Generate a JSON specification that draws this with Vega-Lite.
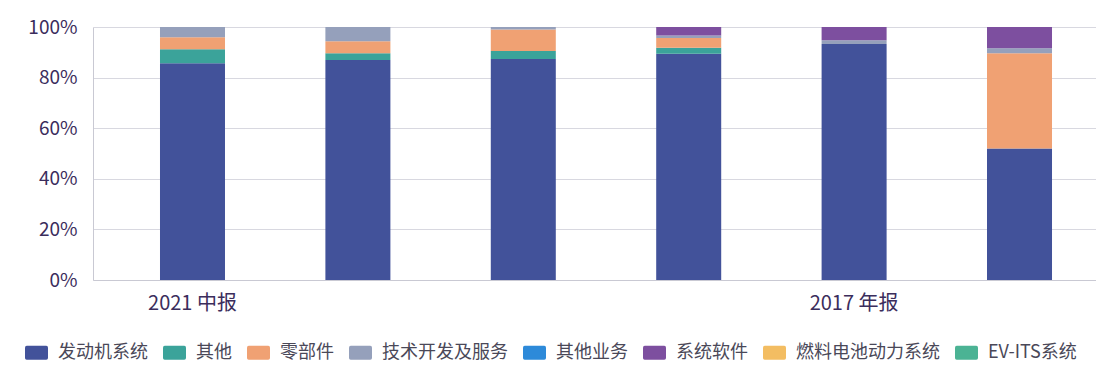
{
  "$schema": "https://vega.github.io/schema/vega-lite/v6.json",
  "width": 1003,
  "height": 253,
  "autosize": "none",
  "padding": {"left": 93, "top": 27, "right": 0, "bottom": 96},
  "background": "#ffffff",
  "config": {
    "font": "Noto Sans CJK SC",
    "view": {"stroke": null}
  },
  "data": {
    "values": [
      {"报告期": "2021 中报", "业务": "发动机系统", "占比": 85.7},
      {"报告期": "2021 中报", "业务": "其他", "占比": 5.5},
      {"报告期": "2021 中报", "业务": "零部件", "占比": 4.7},
      {"报告期": "2021 中报", "业务": "技术开发及服务", "占比": 4.1},
      {"报告期": "2020 年报", "业务": "发动机系统", "占比": 87.0},
      {"报告期": "2020 年报", "业务": "其他", "占比": 2.6},
      {"报告期": "2020 年报", "业务": "零部件", "占比": 4.8},
      {"报告期": "2020 年报", "业务": "技术开发及服务", "占比": 5.6},
      {"报告期": "2019 年报", "业务": "发动机系统", "占比": 87.4},
      {"报告期": "2019 年报", "业务": "其他", "占比": 3.1},
      {"报告期": "2019 年报", "业务": "零部件", "占比": 8.5},
      {"报告期": "2019 年报", "业务": "技术开发及服务", "占比": 1.0},
      {"报告期": "2018 年报", "业务": "发动机系统", "占比": 89.4},
      {"报告期": "2018 年报", "业务": "其他", "占比": 2.4},
      {"报告期": "2018 年报", "业务": "零部件", "占比": 3.9},
      {"报告期": "2018 年报", "业务": "技术开发及服务", "占比": 0.9},
      {"报告期": "2018 年报", "业务": "系统软件", "占比": 3.4},
      {"报告期": "2017 年报", "业务": "发动机系统", "占比": 93.3},
      {"报告期": "2017 年报", "业务": "技术开发及服务", "占比": 1.5},
      {"报告期": "2017 年报", "业务": "系统软件", "占比": 5.2},
      {"报告期": "2016 年报", "业务": "发动机系统", "占比": 52.0},
      {"报告期": "2016 年报", "业务": "零部件", "占比": 37.6},
      {"报告期": "2016 年报", "业务": "技术开发及服务", "占比": 2.0},
      {"报告期": "2016 年报", "业务": "系统软件", "占比": 8.4}
    ]
  },
  "transform": [
    {"window": [{"op": "row_number", "as": "堆叠序"}], "groupby": ["报告期"]}
  ],
  "mark": {"type": "bar"},
  "encoding": {
    "x": {
      "field": "报告期",
      "type": "nominal",
      "sort": ["2021 中报", "2020 年报", "2019 年报", "2018 年报", "2017 年报", "2016 年报"],
      "scale": {"range": [0, 1026], "paddingInner": 0.607, "paddingOuter": 0.405},
      "axis": {
        "title": null,
        "labelAngle": 0,
        "labelExpr": "datum.value == '2021 中报' || datum.value == '2017 年报' ? datum.value : ''",
        "labelFontSize": 20,
        "labelColor": "#3b2d5c",
        "labelPadding": 13,
        "ticks": false,
        "domainColor": "#c9c9d3",
        "labelOverlap": false
      }
    },
    "y": {
      "field": "占比",
      "type": "quantitative",
      "stack": "normalize",
      "scale": {"domain": [0, 1]},
      "axis": {
        "title": null,
        "format": ".0%",
        "values": [0, 0.2, 0.4, 0.6, 0.8, 1],
        "labelFontSize": 19,
        "labelColor": "#3b2d5c",
        "labelPadding": 16,
        "ticks": false,
        "domainColor": "#c9c9d3",
        "gridColor": "#d8d8e0"
      }
    },
    "order": {"field": "堆叠序", "type": "quantitative", "sort": "ascending"},
    "color": {
      "field": "业务",
      "type": "nominal",
      "scale": {
        "domain": ["发动机系统", "其他", "零部件", "技术开发及服务", "其他业务", "系统软件", "燃料电池动力系统", "EV-ITS系统"],
        "range": ["#42529a", "#3ba39a", "#f0a173", "#95a0bb", "#2d8ad9", "#7d4f9f", "#f3bd62", "#4bb394"]
      },
      "legend": {
        "title": null,
        "orient": "none",
        "legendX": -68,
        "legendY": 314,
        "direction": "horizontal",
        "columns": 8,
        "columnPadding": 15,
        "symbolType": "M-0.85,-0.6 H0.85 Q1,-0.6 1,-0.45 V0.45 Q1,0.6 0.85,0.6 H-0.85 Q-1,0.6 -1,0.45 V-0.45 Q-1,-0.6 -0.85,-0.6 Z",
        "symbolSize": 529,
        "symbolStrokeWidth": 0,
        "labelOffset": 10,
        "labelFontSize": 18,
        "labelColor": "#4a4858",
        "labelLimit": 300
      }
    }
  }
}
